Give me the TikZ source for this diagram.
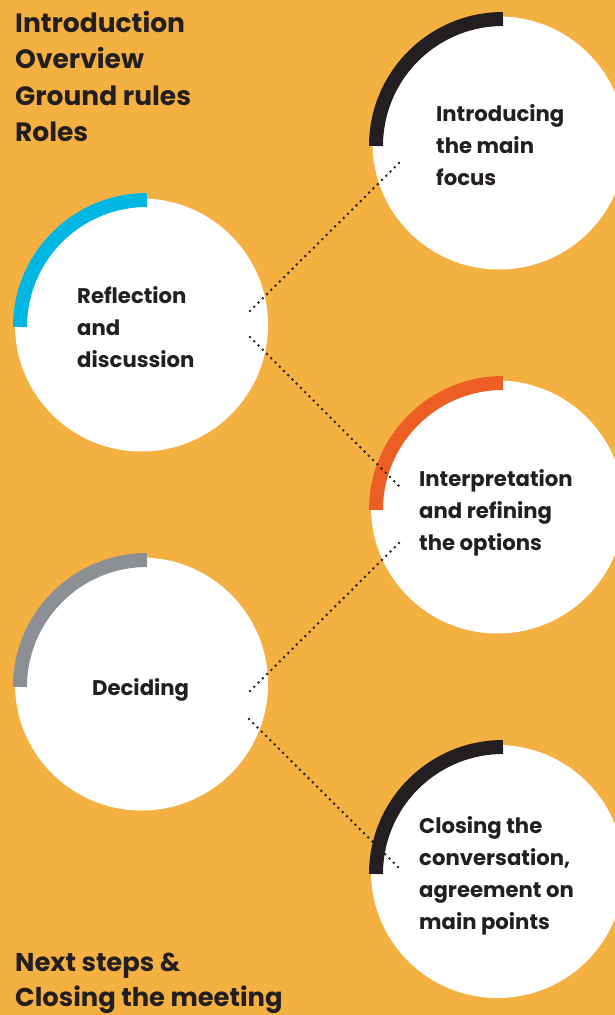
\documentclass[tikz,border=0pt]{standalone}
\usepackage{fontspec}
\setmainfont{Poppins}
\usepackage{xcolor}
\usetikzlibrary{positioning, calc}

\definecolor{bgorange}{RGB}{245,176,66}
\definecolor{inkdark}{RGB}{35,31,32}
\definecolor{bandcyan}{RGB}{0,183,228}
\definecolor{bandred}{RGB}{236,94,36}
\definecolor{bandgray}{RGB}{140,144,148}

\tikzset{
  stage/.style={circle, fill=white, minimum size=253pt, inner sep=0pt},
  band/.style={line width=14pt},
  stagetext/.style={anchor=base west, align=left, inner sep=0pt, text=inkdark,
    font=\bfseries\fontsize{21.2}{32}\selectfont},
  agenda/.style={anchor=base west, align=left, inner sep=0pt, text=inkdark,
    font=\bfseries\fontsize{26.5}{36.5}\selectfont},
  dots/.style={inkdark, line width=2.8pt, line cap=round, dash pattern=on 0pt off 6pt}
}

\begin{document}
\begin{tikzpicture}[x=1pt, y=1pt]
    \useasboundingbox (0,0) rectangle (615,-1015);
    \fill[bgorange] (0,0) rectangle (615,-1015);

    % the five stages
    \node[stage] (intro)   at (499,-143)   {};
    \node[stage] (reflect) at (141.5,-325) {};
    \node[stage] (interp)  at (497.5,-507) {};
    \node[stage] (decide)  at (141.5,-684) {};
    \node[stage] (closing) at (497.5,-871.5) {};

    \draw[band, inkdark]   ($(intro.center)+(4,-3)$)   ++(180:127) arc[start angle=180, end angle=90, radius=127];
    \draw[band, bandcyan]  ($(reflect.center)+(5.5,-2)$) ++(180:127) arc[start angle=180, end angle=90, radius=127];
    \draw[band, bandred]   ($(interp.center)+(5.5,-3)$)  ++(180:127) arc[start angle=180, end angle=90, radius=127];
    \draw[band, bandgray]  ($(decide.center)+(5.5,-3)$)  ++(180:127) arc[start angle=180, end angle=90, radius=127];

    % dotted links
    \coordinate (r-up)  at (250,-311);
    \coordinate (r-dn)  at (250,-337);
    \coordinate (i-in)  at (400,-162);
    \coordinate (p-in)  at (400,-487);
    \coordinate (p-out) at (399,-543);
    \coordinate (d-up)  at (249,-692);
    \coordinate (d-dn)  at (249,-719);
    \coordinate (c-in)  at (399,-868);
    \draw[dots] (r-up) -- (i-in);
    \draw[dots] (r-dn) -- (p-in);
    \draw[dots] (p-out) -- (d-up);
    \draw[dots] (d-dn) -- (c-in);

    \draw[band, inkdark]   ($(closing.center)+(5.5,-2.5)$) ++(180:127) arc[start angle=180, end angle=90, radius=127];

    % labels (base = last line)
    \node[stagetext] (intro-txt)   at ($(intro.center)+(-63,-42)$)     {Introducing\\the main\\focus};
    \node[stagetext] (reflect-txt) at ($(reflect.center)+(-64.5,-42)$) {Reflection\\and\\discussion};
    \node[stagetext] (interp-txt)  at ($(interp.center)+(-78.5,-43)$)  {Interpretation\\and refining\\the options};
    \node[stagetext] (decide-txt)  at ($(decide.center)+(-49.5,-11)$)  {Deciding};
    \node[stagetext] (closing-txt) at ($(closing.center)+(-78.5,-57.5)$) {Closing the\\conversation,\\agreement on\\main points};

    \node[agenda] (opening) at (15,-141.5) {Introduction\\Overview\\Ground rules\\Roles};
    \node[agenda, font=\bfseries\fontsize{25.8}{34.5}\selectfont] (ending) at (15,-1006) {Next steps \&\\Closing the meeting};
\end{tikzpicture}
\end{document}
